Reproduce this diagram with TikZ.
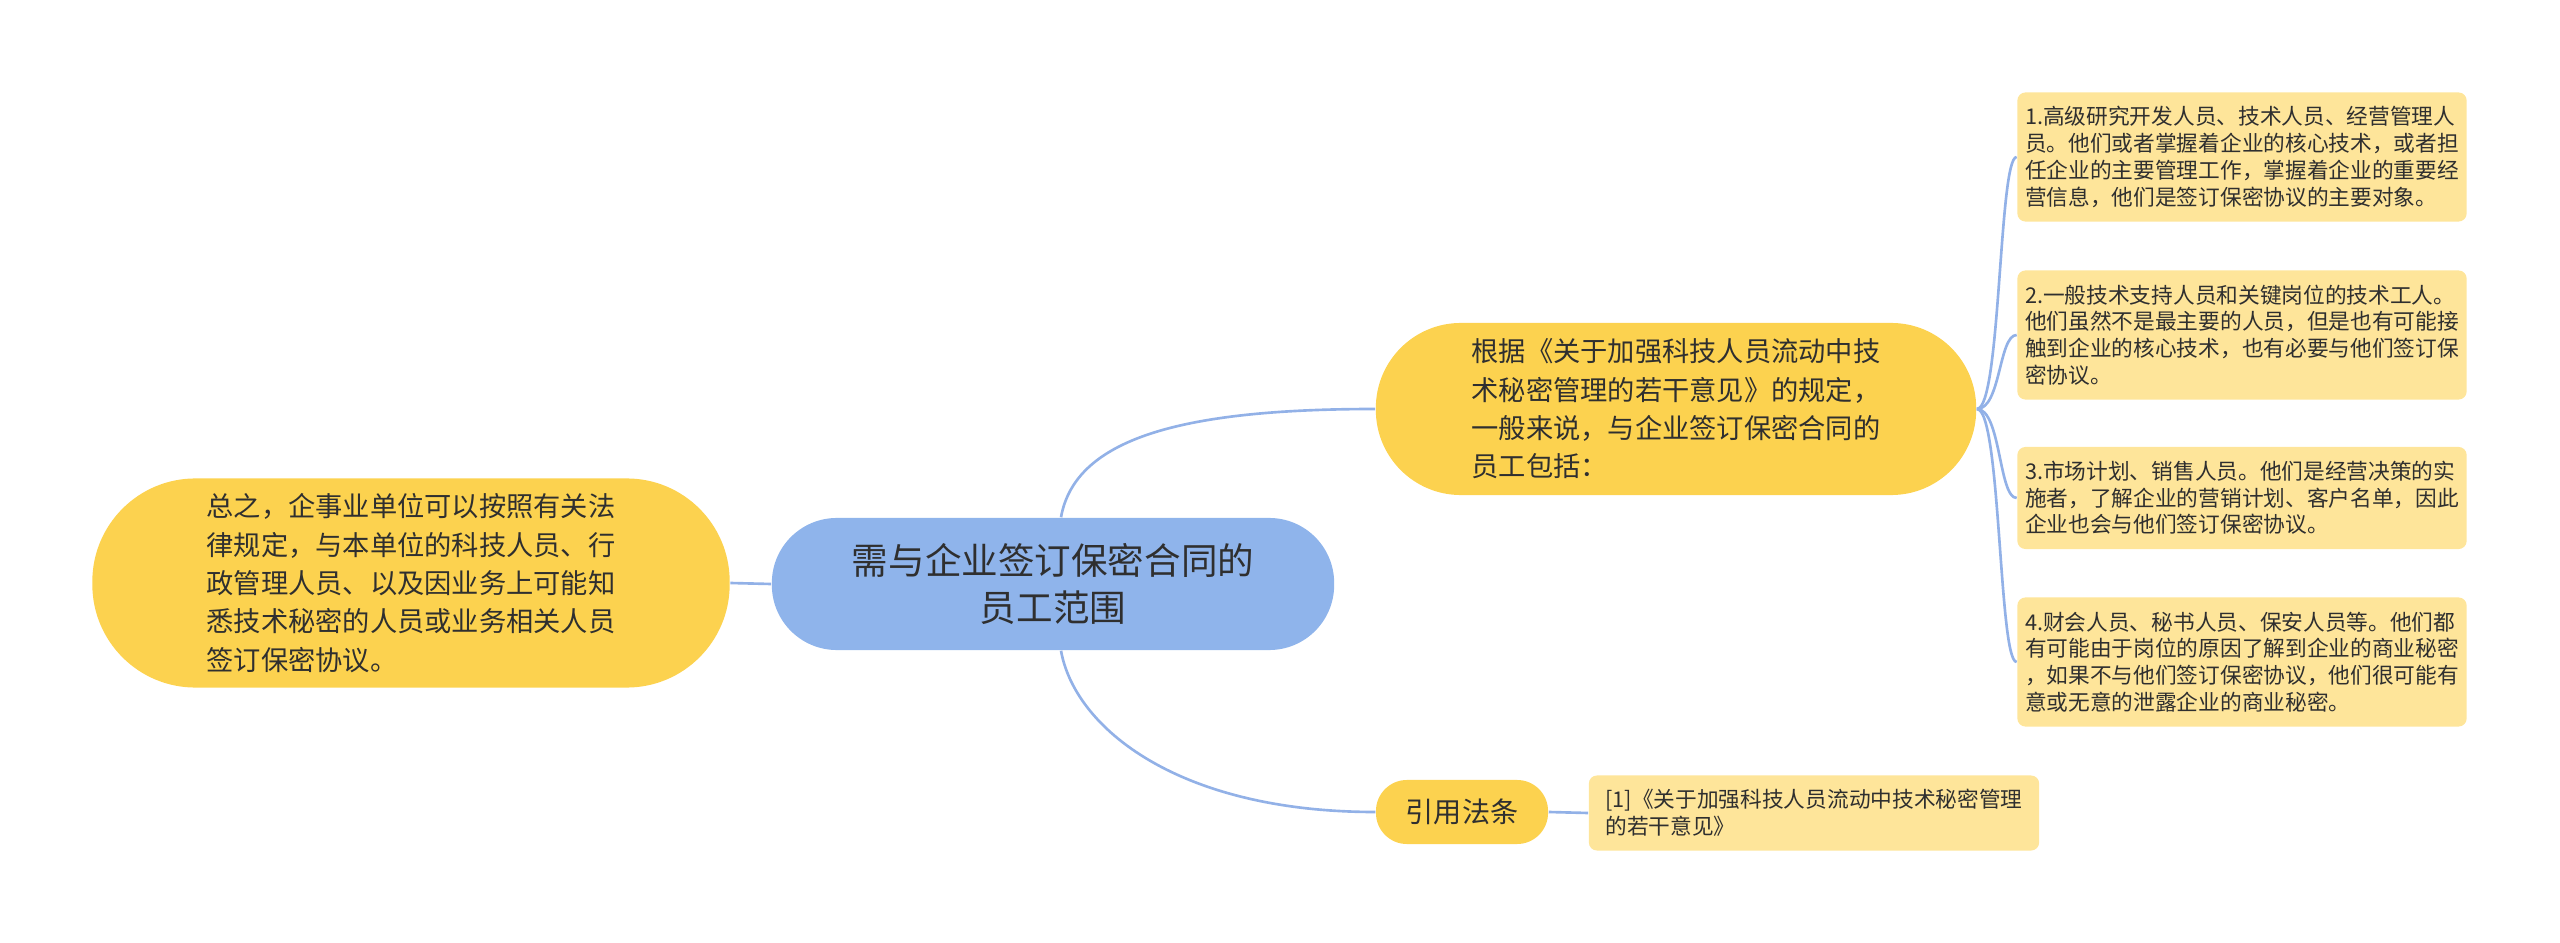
\documentclass[tikz,border=0pt]{standalone}
\usepackage{fontspec}
\setmainfont{Noto Sans CJK SC}
\definecolor{coreblue}{HTML}{8FB4EB}
\definecolor{topicyellow}{HTML}{FCD24F}
\definecolor{leafyellow}{HTML}{FEE59A}
\definecolor{linkblue}{HTML}{92B1E7}
\definecolor{txtgray}{HTML}{2F2F2F}
\begin{document}
\begin{tikzpicture}
  [x=0.01cm,y=-0.01cm,every node/.style={text=txtgray,inner sep=0pt},
   core/.style={fill=coreblue,rounded corners=0.65cm,align=center,
     minimum width=5.62cm,minimum height=1.32cm,font=\fontsize{10.4pt}{13.2pt}\selectfont},
   topic/.style={fill=topicyellow,align=left,font=\fontsize{7.75pt}{10.9pt}\selectfont},
   leaf/.style={fill=leafyellow,rounded corners=0.08cm,align=left,
     minimum width=4.49cm,font=\fontsize{6.17pt}{7.6pt}\selectfont},
   link/.style={draw=linkblue,line width=0.75pt}]
  \useasboundingbox (0,0) rectangle (2560,943);

  \node[core] (core) at (1053,584) {需与企业签订保密合同的\\员工范围};
  \node[topic,rounded corners=0.85cm,minimum width=6cm,minimum height=1.72cm] (gen) at (1676,409)
    {根据《关于加强科技人员流动中技\\术秘密管理的若干意见》的规定，\\一般来说，与企业签订保密合同的\\员工包括：};
  \node[topic,rounded corners=1.03cm,minimum width=6.37cm,minimum height=2.09cm] (summ) at (411,583)
    {总之，企事业单位可以按照有关法\\律规定，与本单位的科技人员、行\\政管理人员、以及因业务上可能知\\悉技术秘密的人员或业务相关人员\\签订保密协议。};
  \node[topic,rounded corners=0.31cm,minimum width=1.72cm,minimum height=0.64cm,
    font=\fontsize{8pt}{10pt}\selectfont] (cite) at (1462,812) {引用法条};

  \node[leaf,minimum height=1.29cm] (l1) at (2242,157)
    {1.高级研究开发人员、技术人员、经营管理人\\员。他们或者掌握着企业的核心技术，或者担\\任企业的主要管理工作，掌握着企业的重要经\\营信息，他们是签订保密协议的主要对象。};
  \node[leaf,minimum height=1.29cm] (l2) at (2242,335)
    {2.一般技术支持人员和关键岗位的技术工人。\\他们虽然不是最主要的人员，但是也有可能接\\触到企业的核心技术，也有必要与他们签订保\\密协议。};
  \node[leaf,minimum height=1.02cm] (l3) at (2242,498)
    {3.市场计划、销售人员。他们是经营决策的实\\施者，了解企业的营销计划、客户名单，因此\\企业也会与他们签订保密协议。};
  \node[leaf,minimum height=1.29cm] (l4) at (2242,662)
    {4.财会人员、秘书人员、保安人员等。他们都\\有可能由于岗位的原因了解到企业的商业秘密\\，如果不与他们签订保密协议，他们很可能有\\意或无意的泄露企业的商业秘密。};
  \node[leaf,minimum width=4.5cm,minimum height=0.75cm] (ref) at (1814,813)
    {[1]《关于加强科技人员流动中技术秘密管理\\的若干意见》};

  \draw[link] ([xshift=0.08cm]core.north) .. controls +(14,-78) and +(-196,0) .. (gen.west);
  \draw[link] ([xshift=0.08cm]core.south) .. controls +(14,78) and +(-196,0) .. (cite.west);
  \draw[link] (summ.east) -- (core.west);
  \draw[link] (cite.east) -- (ref.west);

  \foreach \leafnode in {l1,l2,l3,l4}
  \draw[link] (gen.east) .. controls +(24,0) and +(-18,0) .. (\leafnode.west);
\end{tikzpicture}
\end{document}
